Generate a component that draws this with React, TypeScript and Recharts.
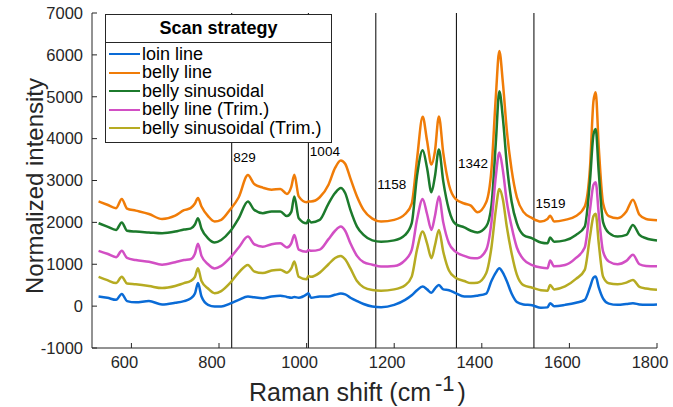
import {
  Legend,
  Line,
  LineChart,
  ReferenceDot,
  ReferenceLine,
  XAxis,
  YAxis,
} from "recharts";

const FONT = '"Liberation Sans", Arial, Helvetica, sans-serif';
const AXIS = "#262626";

// Raman shift (cm-1) sample positions
const shift = [
  525, 545, 565, 578, 590, 610, 640, 670, 700, 720, 735, 745, 752, 760, 775,
  790, 805, 825, 845, 866, 880, 900, 920, 940, 955, 965, 972, 982, 1000, 1004,
  1010, 1030, 1050, 1065, 1078, 1088, 1100, 1115, 1130, 1150, 1170, 1200, 1225,
  1240, 1252, 1265, 1275, 1285, 1293, 1302, 1312, 1325, 1340, 1360, 1375, 1390,
  1410, 1422, 1432, 1440, 1448, 1457, 1468, 1480, 1495, 1515, 1535, 1550, 1556,
  1565, 1590, 1615, 1635, 1647, 1655, 1660, 1667, 1677, 1690, 1710, 1730, 1745,
  1760, 1775, 1800,
];

const loinLine = [
  230, 200, 150, 290, 120, 90, 120, 40, 80, 120, 180, 300, 550, 230, 30,
  -10, -10, 60, 150, 230, 210, 190, 230, 250, 220, 200, 220, 200, 280, 310,
  200, 230, 230, 270, 300, 280, 200, 120, 50, -10, -25, 30, 150,
  260, 380, 470, 400, 320, 420, 505, 400, 380, 310, 230, 230, 250,
  300, 600, 800, 905, 800, 600, 300, 100, 40, 20, -40, -30, 70,
  0, 30, 80, 150, 450, 680, 705, 450, 180, 60, 30, 50, 70,
  40, 30, 40,
];

const bellyLine = [
  2500, 2420, 2340, 2560, 2330, 2280, 2200, 2080, 2160, 2290, 2340, 2450, 2580, 2380, 2150,
  2020, 2060, 2300, 2600, 3130, 2920, 2830, 2780, 2800, 2680, 2850, 3140, 2620, 2480, 2500,
  2500, 2600, 2900, 3300, 3480, 3400, 3050, 2620, 2300, 2090, 2020, 2060, 2200,
  2450, 3500, 4520, 3950, 3380, 3700, 4530, 3660, 2900, 2560, 2450, 2400, 2240,
  2480, 3260, 5000, 6090, 5350, 4210, 3260, 2600, 2250, 2100, 2020, 2080, 2160,
  2020, 2060, 2150, 2380, 3300, 4900, 5110, 3800, 2450, 2150, 2100, 2260, 2540,
  2180, 2080, 2050,
];

const bellySinusoidal = [
  1980, 1900, 1820, 2000, 1800, 1780, 1760, 1740, 1780, 1830, 1850, 1950, 2100, 1850, 1620,
  1520, 1580, 1780, 2100, 2500, 2300, 2220, 2260, 2260, 2150, 2250, 2620, 2100, 1980, 2060,
  2000, 2060, 2450, 2700, 2820, 2700, 2300, 1900, 1700, 1570, 1540, 1570, 1700,
  1980, 3100, 3720, 3300, 2720, 3100, 3740, 2980, 2300, 1960, 1880, 1800, 1760,
  1900, 2400, 3900, 5130, 4500, 3400, 2500, 1980, 1700, 1620, 1520, 1500, 1640,
  1540, 1570, 1700, 1900, 3000, 4100, 4230, 3200, 2000, 1750, 1660, 1700, 1940,
  1700, 1620, 1570,
];

const bellyLineTrim = [
  1320, 1250, 1170, 1320, 1150, 1100, 1060, 990, 1050, 1100, 1120, 1250, 1490, 1200, 1000,
  900, 960, 1150, 1400, 1660, 1480, 1420, 1480, 1500, 1400, 1500, 1700, 1350, 1300, 1340,
  1320, 1350, 1600, 1800, 1900, 1800, 1500, 1200, 1050, 990, 945, 960, 1100,
  1345, 2060, 2560, 2200, 1820, 2150, 2620, 2000, 1500, 1300, 1200, 1150, 1145,
  1345, 2000, 3100, 3670, 3250, 2500, 1900, 1400, 1120, 980, 920, 905, 1090,
  950, 980, 1150, 1400, 2300, 2900, 2960, 2200, 1300, 1065, 1000, 1080, 1225,
  1000, 960, 950,
];

const bellySinusoidalTrim = [
  700, 620, 550, 700, 540, 520, 480, 430, 480, 550, 600, 700, 905, 600, 420,
  310, 360, 550, 800, 985, 830, 790, 850, 870, 800, 900, 1065, 700, 640, 720,
  700, 800, 1000, 1150, 1200, 1120, 900, 600, 450, 385, 370, 400, 500,
  705, 1345, 1780, 1500, 1145, 1450, 1820, 1300, 850, 680, 600, 550, 560,
  785, 1400, 2300, 2795, 2550, 1900, 1265, 750, 500, 440, 380, 370, 505,
  400, 470, 650, 865, 1660, 2150, 2205, 1500, 700, 545, 520, 560, 625,
  460, 420, 390,
];

const seriesNames = [
  "loin line",
  "belly line",
  "belly sinusoidal",
  "belly line (Trim.)",
  "belly sinusoidal (Trim.)",
];
const seriesColors = ["#0a6bd6", "#f07c08", "#1c7a2c", "#d24fc4", "#b6ab22"];
const seriesKeys = ["loin", "belly", "bellySin", "bellyTrim", "bellySinTrim"];

const bandShifts = [829, 1004, 1158, 1342, 1519];
const bandLabelLevels = [3550, 3700, 2900, 3420, 2450];

const xTicks = [600, 800, 1000, 1200, 1400, 1600, 1800];
const yTicks = [-1000, 0, 1000, 2000, 3000, 4000, 5000, 6000, 7000];

const rows = shift.map((s, i) => ({
  shift: s,
  loin: loinLine[i],
  belly: bellyLine[i],
  bellySin: bellySinusoidal[i],
  bellyTrim: bellyLineTrim[i],
  bellySinTrim: bellySinusoidalTrim[i],
}));

function ScanLegend({ payload }: { payload?: any[] }) {
  const items = [...(payload || [])].sort(
    (a, b) => seriesNames.indexOf(a.value) - seriesNames.indexOf(b.value)
  );
  return (
    <div
      style={{
        width: 227,
        height: 129,
        boxSizing: "border-box",
        border: `1px solid ${AXIS}`,
        background: "#fff",
        fontFamily: FONT,
        color: "#000",
      }}
    >
      <div
        style={{
          height: 27,
          lineHeight: "27px",
          borderBottom: `1px solid ${AXIS}`,
          textAlign: "center",
          fontWeight: "bold",
          fontSize: 18,
        }}
      >
        Scan strategy
      </div>
      <div style={{ paddingTop: 2 }}>
        {items.map((p) => (
          <div
            key={p.value}
            style={{
              display: "flex",
              alignItems: "center",
              height: 18.5,
              fontSize: 18,
              whiteSpace: "nowrap",
            }}
          >
            <span
              style={{
                display: "inline-block",
                width: 31,
                borderTop: `2px solid ${p.color}`,
                marginLeft: 3,
                marginRight: 2,
              }}
            />
            {p.value}
          </div>
        ))}
      </div>
    </div>
  );
}

export default function App() {
  return (
    <div style={{ position: "absolute", left: 0, top: 0, fontFamily: FONT }}>
      <LineChart
        width={673}
        height={407}
        data={rows}
        margin={{ top: 13, right: 16, bottom: 0, left: 0 }}
      >
        <XAxis
          dataKey="shift"
          type="number"
          domain={[510, 1800]}
          ticks={xTicks}
          interval={0}
          height={59}
          tickSize={-5}
          tickMargin={13}
          stroke={AXIS}
          tick={{ fill: AXIS, fontSize: 16.5, fontFamily: FONT, dx: -7 }}
        />
        <YAxis
          type="number"
          domain={[-1000, 7000]}
          ticks={yTicks}
          interval={0}
          width={92}
          tickSize={-5}
          tickMargin={14}
          stroke={AXIS}
          tick={{ fill: AXIS, fontSize: 16.5, fontFamily: FONT }}
        />
        {bandShifts.map((b) => (
          <ReferenceLine key={`l${b}`} x={b} stroke="#000" strokeWidth={1} />
        ))}
        {seriesKeys.map((k, i) => (
          <Line
            key={k}
            dataKey={k}
            name={seriesNames[i]}
            stroke={seriesColors[i]}
            strokeWidth={2.5}
            type="monotone"
            dot={false}
            isAnimationActive={false}
          />
        ))}
        {bandShifts.map((b, i) => (
          <ReferenceDot
            key={`d${b}`}
            x={b}
            y={bandLabelLevels[i]}
            r={0}
            fill="none"
            stroke="none"
            label={{
              value: String(b),
              position: "right",
              offset: 1.5,
              fontSize: 13.5,
              fill: "#000",
              fontFamily: FONT,
            }}
          />
        ))}
        <Legend
          layout="vertical"
          align="center"
          verticalAlign="middle"
          itemSorter={null as any}
          content={<ScanLegend />}
          wrapperStyle={{ left: 105, top: 14, width: 227, height: 129 }}
        />
        <text
          x={43}
          y={186}
          transform="rotate(-90, 43, 186)"
          textAnchor="middle"
          fontSize={24}
          fill={AXIS}
          fontFamily={FONT}
        >
          Normalized intensity
        </text>
        <text x={249} y={401} fontSize={25} fill={AXIS} fontFamily={FONT}>
          Raman shift (cm
          <tspan dx={4} dy={-10} fontSize={22}>
            -1
          </tspan>
          <tspan dx={3} dy={10} fontSize={25}>
            )
          </tspan>
        </text>
      </LineChart>
    </div>
  );
}
